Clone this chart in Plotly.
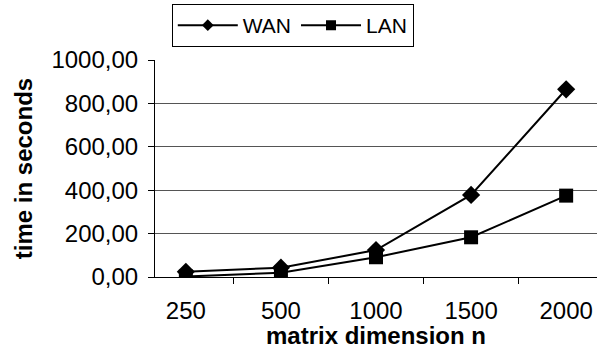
import plotly.graph_objects as go

categories = ["250", "500", "1000", "1500", "2000"]
wan = [24, 43, 124, 378, 865]
lan = [2, 20, 91, 183, 375]
y_ticks = [0, 200, 400, 600, 800, 1000]

FONT = "Liberation Sans, Arial, sans-serif"

fig = go.Figure()
fig.add_trace(go.Scatter(
    x=categories, y=wan, name="WAN", mode="lines+markers", showlegend=False,
    line=dict(color="black", width=2),
    marker=dict(symbol="diamond", size=14, color="black"),
))
fig.add_trace(go.Scatter(
    x=categories, y=lan, name="LAN", mode="lines+markers", showlegend=False,
    line=dict(color="black", width=2),
    marker=dict(symbol="square", size=14, color="black"),
))
# legend entries with the smaller legend markers of the original
fig.add_trace(go.Scatter(
    x=[None], y=[None], name="WAN", mode="lines+markers",
    line=dict(color="black", width=2),
    marker=dict(symbol="diamond", size=9, color="black"),
))
fig.add_trace(go.Scatter(
    x=[None], y=[None], name="LAN", mode="lines+markers",
    line=dict(color="black", width=2),
    marker=dict(symbol="square", size=10, color="black"),
))

fig.update_layout(
    width=598, height=349,
    margin=dict(l=155, r=1, t=60, b=72),
    paper_bgcolor="white", plot_bgcolor="white",
    separators=",.",
    font=dict(family=FONT, size=24, color="black"),
    showlegend=True,
    legend=dict(
        orientation="h", x=0.038, y=1.258, xanchor="left", yanchor="top",
        bordercolor="black", borderwidth=1, bgcolor="white",
        font=dict(family=FONT, size=21, color="black"),
        itemwidth=60, tracegroupgap=0,
    ),
)
fig.update_xaxes(
    type="category", tickson="boundaries", ticks="outside", ticklen=6,
    tickcolor="black", showline=True, linecolor="black", linewidth=1,
    showgrid=False, zeroline=False, ticklabelstandoff=12,
    tickfont=dict(family=FONT, size=24),
    title=dict(text="matrix dimension n", font=dict(family=FONT, size=24, weight="bold"), standoff=2),
)
fig.update_yaxes(
    range=[0, 1000], tickvals=y_ticks, tickformat=".2f", ticks="outside", ticklen=6,
    tickcolor="black", showline=True, linecolor="black", linewidth=1,
    showgrid=True, gridcolor="#555555", gridwidth=1, zeroline=False,
    ticklabelstandoff=5,
    tickfont=dict(family=FONT, size=24),
    title=dict(text="time in seconds", font=dict(family=FONT, size=24, weight="bold"), standoff=12),
)

fig.write_html("out.html")
